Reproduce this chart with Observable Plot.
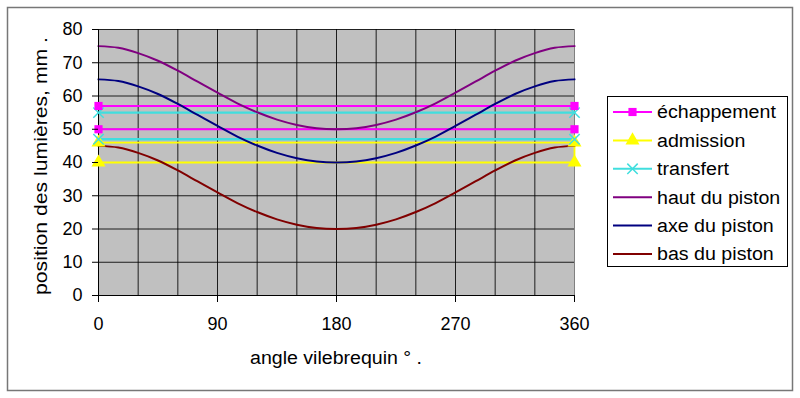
<!DOCTYPE html>
<html><head><meta charset="utf-8">
<script src="https://cdn.jsdelivr.net/npm/d3@7"></script>
<script src="https://cdn.jsdelivr.net/npm/@observablehq/plot@0.6"></script>
<style>body{margin:0;background:#fff} svg{display:block}</style>
</head><body><div id="chart"></div>
<script>
// ---- data ----
const angles = [0,15,30,45,60,75,90,105,120,135,150,165,180,195,210,225,240,255,270,285,300,315,330,345,360];
const hautDuPiston = [75,74.5,72.9,70.6,67.6,64.3,61.0,57.8,55.1,52.9,51.3,50.3,50,50.3,51.3,52.9,55.1,57.8,61.0,64.3,67.6,70.6,72.9,74.5,75];
const axeDuPiston  = [65,64.5,62.9,60.6,57.6,54.3,51.0,47.8,45.1,42.9,41.3,40.3,40,40.3,41.3,42.9,45.1,47.8,51.0,54.3,57.6,60.6,62.9,64.5,65];
const basDuPiston  = [45,44.5,42.9,40.6,37.6,34.3,31.0,27.8,25.1,22.9,21.3,20.3,20,20.3,21.3,22.9,25.1,27.8,31.0,34.3,37.6,40.6,42.9,44.5,45];
const portAngles = [0, 360];
const echappementLevels = [57, 50];
const transfertLevels = [55, 47];
const admissionAngles = [0, 360, 360, 0];
const admissionValues = [46, 46, 40, 40];
const xTicks = [0, 90, 180, 270, 360];
const xGrid = [30, 60, 90, 120, 150, 180, 210, 240, 270, 300, 330];
const yTicks = [0, 10, 20, 30, 40, 50, 60, 70, 80];
const seriesNames = ["échappement", "admission", "transfert", "haut du piston", "axe du piston", "bas du piston"];
const seriesColors = ["#ff00ff", "#ffff00", "#40dede", "#800080", "#000080", "#800000"];
const seriesSymbols = ["square", "triangle", "times", null, null, null];
const xTitle = "angle vilebrequin ° .";
const yTitle = "position des lumières, mm .";

// ---- tables ----
const curveRows = [];
[[seriesNames[3], hautDuPiston], [seriesNames[4], axeDuPiston], [seriesNames[5], basDuPiston]]
  .forEach(([name, vals]) => vals.forEach((v, i) => curveRows.push({series: name, x: angles[i], y: v})));
const echRows = echappementLevels.flatMap((lvl, k) => portAngles.map(a => ({series: seriesNames[0], seg: k, x: a, y: lvl})));
const traRows = transfertLevels.flatMap((lvl, k) => portAngles.map(a => ({series: seriesNames[2], seg: k, x: a, y: lvl})));
const admRows = admissionAngles.map((a, i) => ({series: seriesNames[1], x: a, y: admissionValues[i]}));

const font = "Arial, 'Liberation Sans', sans-serif";
const rSquare = 4.6, rTri = 5.2, rTimes = 4.8;

const plot = Plot.plot({
  width: 800, height: 398,
  marginLeft: 98, marginRight: 226, marginTop: 29, marginBottom: 103,
  x: {domain: [0, 360]},
  y: {domain: [0, 80]},
  color: {domain: seriesNames, range: seriesColors},
  style: {fontFamily: font, fontSize: "18px", background: "#fff", color: "#000"},
  marks: [
    Plot.frame({fill: "#c0c0c0", stroke: null}),
    Plot.gridX(xGrid, {stroke: "#000", strokeOpacity: 0.85, strokeWidth: 1}),
    Plot.gridY(yTicks.filter(v => v > 0), {stroke: "#000", strokeOpacity: 0.85, strokeWidth: 1}),
    Plot.ruleX([360], {stroke: "#808080"}),
    Plot.line(admRows, {x: "x", y: "y", stroke: "series", strokeWidth: 1.8}),
    Plot.line(traRows, {x: "x", y: "y", z: "seg", stroke: "series", strokeWidth: 2.4}),
    Plot.line(echRows, {x: "x", y: "y", z: "seg", stroke: "series", strokeWidth: 1.8}),
    Plot.line(curveRows, {x: "x", y: "y", z: "series", stroke: "series", strokeWidth: 2, curve: "catmull-rom"}),
    Plot.ruleY([0], {stroke: "#000"}),
    Plot.ruleX([0], {stroke: "#000"}),
    Plot.dot(admRows, {x: "x", y: "y", symbol: "triangle", fill: "series", stroke: null, r: rTri}),
    Plot.dot(traRows, {x: "x", y: "y", symbol: "times", stroke: "series", fill: null, strokeWidth: 1.5, r: rTimes}),
    Plot.dot(echRows, {x: "x", y: "y", symbol: "square", fill: "series", stroke: null, r: rSquare}),
    Plot.axisY({ticks: yTicks, tickSize: 6, tickPadding: 10, label: null, stroke: "#000"}),
    Plot.axisX({ticks: xTicks, tickSize: 7, tickPadding: 15, label: null, stroke: "#000"})
  ]
});
document.getElementById("chart").appendChild(plot);

const svg = d3.select(plot);
// outer frame
svg.insert("rect", ":first-child").attr("x", 7.5).attr("y", 7.5).attr("width", 785).attr("height", 383)
  .attr("fill", "none").attr("stroke", "#777").attr("stroke-width", 1.5);

// axis titles
svg.append("text").attr("x", 336).attr("y", 364).attr("text-anchor", "middle")
  .attr("font-family", font).attr("font-size", 18).attr("fill", "#000")
  .attr("textLength", 172).attr("lengthAdjust", "spacingAndGlyphs").text(xTitle);
svg.append("text").attr("transform", "translate(47,166) rotate(-90)").attr("text-anchor", "middle")
  .attr("font-family", font).attr("font-size", 18).attr("fill", "#000")
  .attr("textLength", 258).attr("lengthAdjust", "spacingAndGlyphs").text(yTitle);

// legend
const lg = svg.append("g").attr("text-anchor", "start");
lg.append("rect").attr("x", 607.5).attr("y", 96.5).attr("width", 180).attr("height", 170)
  .attr("fill", "#fff").attr("stroke", "#000");
const symMap = {square: [d3.symbolSquare, rSquare], triangle: [d3.symbolTriangle, rTri], times: [d3.symbolTimes, rTimes]};
seriesNames.forEach((name, i) => {
  const y = 112 + i * 28.4;
  const c = seriesColors[i];
  lg.append("line").attr("x1", 613).attr("x2", 652).attr("y1", y).attr("y2", y)
    .attr("stroke", c).attr("stroke-width", 2);
  const s = seriesSymbols[i];
  if (s) {
    const [type, r] = symMap[s];
    const p = lg.append("path").attr("transform", `translate(632.5,${y})`)
      .attr("d", d3.symbol(type, Math.PI * r * r)());
    if (s === "times") p.attr("fill", "none").attr("stroke", c).attr("stroke-width", 1.5);
    else p.attr("fill", c);
  }
  const t = lg.append("text").attr("x", 657).attr("y", y).attr("dy", "0.35em").attr("text-anchor", "start")
    .attr("font-family", font).attr("font-size", 18).attr("fill", "#000").text(name);
  const len = t.node().getComputedTextLength();
  t.attr("textLength", len * 1.09).attr("lengthAdjust", "spacingAndGlyphs");
});
</script>
</body></html>
